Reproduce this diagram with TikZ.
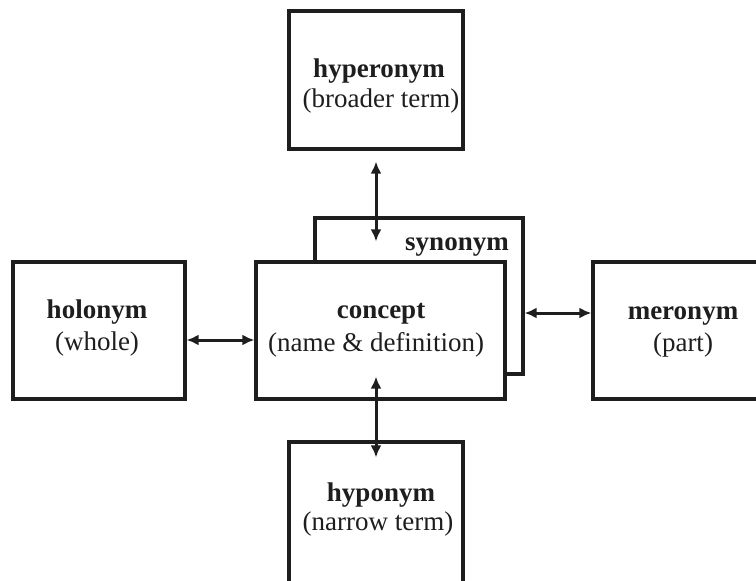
\documentclass[tikz,border=0pt]{standalone}
\usepackage{fontspec}
\setmainfont{Liberation Serif}
\usetikzlibrary{arrows.meta}
\definecolor{ink}{HTML}{1E1E1E}
\tikzset{
  box/.style={draw=ink, line width=3.2pt, fill=white, inner sep=0pt, anchor=center},
  word/.style={text=ink, inner sep=0pt, anchor=base, font=\fontsize{27}{31}\selectfont},
  arr/.style={draw=ink, line width=3pt, {Latex[length=12pt,width=11pt]}-{Latex[length=12pt,width=11pt]}}
}
\begin{document}
\begin{tikzpicture}[x=1pt, y=-1pt]
\useasboundingbox (0,0) rectangle (756,581);
\clip (0,0) rectangle (756,581);
% boxes
\node[box, minimum width=208pt, minimum height=156pt] (syn) at (419,296) {};
\node[box, minimum width=249pt, minimum height=137pt] (concept) at (380.5,330.5) {};
\node[box, minimum width=174pt, minimum height=138pt] (hyper) at (376,80) {};
\node[box, minimum width=172pt, minimum height=137pt] (holo) at (99,330.5) {};
\node[box, minimum width=180pt, minimum height=137pt] (mero) at (683,330.5) {};
\node[box, minimum width=174pt, minimum height=150pt] (hypo) at (376,517) {};
% labels
\node[word] (synL) at (457,250) {\textbf{synonym}};
\node[word] (hyperA) at (379,77) {\textbf{hyperonym}};
\node[word] (hyperB) at (381,107) {(broader term)};
\node[word] (conA) at (381,318) {\textbf{concept}};
\node[word] (conB) at (376,351) {(name \& definition)};
\node[word] (holoA) at (97,318) {\textbf{holonym}};
\node[word] (holoB) at (97,350) {(whole)};
\node[word] (meroA) at (683,319) {\textbf{meronym}};
\node[word] (meroB) at (683,351) {(part)};
\node[word] (hypoA) at (381,501) {\textbf{hyponym}};
\node[word] (hypoB) at (378,530) {(narrow term)};
% connectors
\draw[arr, shorten <=11pt, shorten >=19pt] (hyper.south) -- (hyper.south |- concept.north);
\draw[arr, shorten <=-17pt, shorten >=-24pt] (hypo.north) -- (hypo.north |- concept.south);
\coordinate (holoIn) at ([yshift=-9.5pt]holo.east);
\draw[arr] (holoIn) -- (concept.west |- holoIn);
\coordinate (meroIn) at ([yshift=17.5pt]mero.west);
\draw[arr] (syn.east |- meroIn) -- (meroIn);
\end{tikzpicture}
\end{document}
